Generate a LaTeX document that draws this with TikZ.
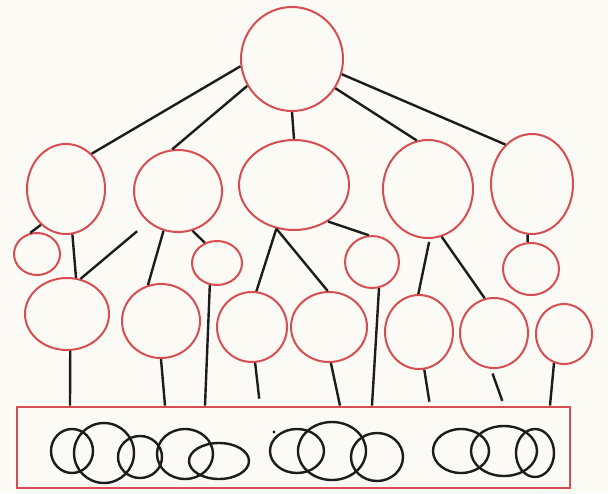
\documentclass[tikz,border=0pt]{standalone}
\usetikzlibrary{shapes.geometric, calc, positioning}
\definecolor{bgcream}{RGB}{252,250,245}
\definecolor{bubblered}{RGB}{214,78,82}
\definecolor{inkline}{RGB}{28,28,28}

\begin{document}
\begin{tikzpicture}[x=1pt, y=-1pt,
    bubble/.style={draw=bubblered, ellipse, line width=2pt, inner sep=0pt},
    link/.style={draw=inkline, line width=2.4pt},
    ring/.style={draw=inkline, line width=2.4pt}]
    % background
    \fill[bgcream] (0,0) rectangle (608,493);
    \useasboundingbox (0,0) rectangle (608,493);
    % root
    \node[bubble, minimum width=102pt, minimum height=104pt] (root) at (292,59) {};
    % second row
    \foreach \n/\x/\y/\w/\h in {mid1/66/189/78/90, mid2/178/191/88/82, mid3/294/185/110/90,
                                 mid4/428/189/90/98, mid5/532/184/82/100}
        \node[bubble, minimum width=\w pt, minimum height=\h pt] (\n) at (\x,\y) {};
    % small bubbles
    \foreach \n/\x/\y/\w/\h in {small1/37/254/46/42, small2/217/263/50/44,
                                 small3/372/262/54/52, small4/531/269/56/52}
        \node[bubble, minimum width=\w pt, minimum height=\h pt] (\n) at (\x,\y) {};
    % leaves
    \foreach \n/\x/\y/\w/\h in {leaf1/67/314/84/72, leaf2/161/321/78/74, leaf3/252/327/70/70,
                                 leaf4/329/327/76/70, leaf5/419/332/68/74, leaf6/494/333/68/70,
                                 leaf7/564/334/56/60}
        \node[bubble, minimum width=\w pt, minimum height=\h pt] (\n) at (\x,\y) {};
    % base box
    \node[draw=bubblered, line width=2.8pt, inner sep=0pt,
          minimum width=553pt, minimum height=81pt] (base) at (293.5,447.5) {};
    \foreach \n/\x in {t1/70, t2/165, t3/205, t4/260, t5/340, t6/372, t7/430, t8/504, t9/550}
        \coordinate (\n) at (\x,0 |- base.north);
    % root links
    \draw[link] (root.188) -- (mid1.54);
    \draw[link] (root.211) -- (mid2.98);
    \draw[link] (root.270) -- (mid3.90);
    \draw[link] (root.326) -- (mid4.103);
    \draw[link] (root.343) -- (mid5.124);
    % second row links
    \draw[link] (mid1.235) -- (small1.108);
    \draw[link] (mid1.278) -- (leaf1.76);
    \draw[link, shorten <=14pt] (mid2.226) -- (leaf1.69);
    \draw[link] (mid2.250) -- (leaf2.110);
    \draw[link] (mid2.290) -- (small2.121);
    \draw[link] (mid3.248) -- (leaf3.83);
    \draw[link] (mid3.248) -- (leaf4.92);
    \draw[link] (mid3.313) -- (small3.97);
    \draw[link, shorten <=3pt] (mid4.272) -- (leaf5.91);
    \draw[link] (mid4.286) -- (leaf6.105);
    \draw[link] (mid5.265) -- (small4.97);
    % links down to the box
    \draw[link] (leaf1.275) -- (t1);
    \draw[link] (leaf2.270) -- (t2);
    \draw[link] (small2.252) -- (t3);
    \draw[link, shorten >=7pt] (leaf3.275) -- (t4);
    \draw[link] (leaf4.273) -- (t5);
    \draw[link] (small3.285) -- (t6);
    \draw[link, shorten >=4pt] (leaf5.278) -- (t7);
    \draw[link, shorten <=5pt, shorten >=5pt] (leaf6.265) -- (t8);
    \draw[link] (leaf7.251) -- (t9);
    % rings inside the box
    \foreach \x/\y/\a/\b in {72/451/21/22, 104/453/30/30, 140/457/22/21, 185/454/28/25,
                             219/461/30/18, 297/451/27/22, 332/451/34/29, 377/457/26/24,
                             461/451/28/22, 504/451/33/25, 535/453/19/24}
        \draw[ring] (\x,\y) ellipse [x radius=\a, y radius=\b];
    \fill[inkline] (274,432) circle (1.6pt);
\end{tikzpicture}
\end{document}
